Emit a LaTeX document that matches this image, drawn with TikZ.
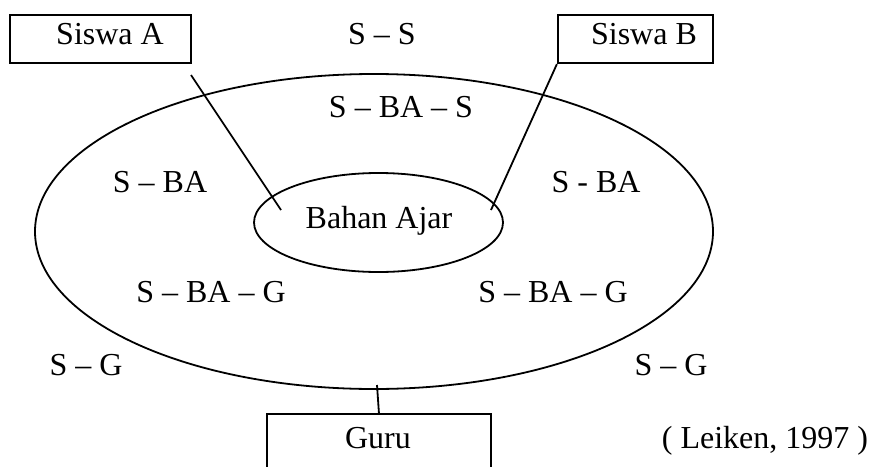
\documentclass[tikz,border=0pt]{standalone}
\usepackage{fontspec}
\setmainfont{Liberation Serif}
\begin{document}
\begin{tikzpicture}[x=1pt,y=-1pt,
  lbl/.style={inner sep=0pt, anchor=base, font=\fontsize{32}{38}\selectfont},
  boxn/.style={draw, line width=2.2pt, inner sep=0pt},
  conn/.style={line width=1.8pt}]
\useasboundingbox (0,0) rectangle (873,466);
% outer and inner ellipses
\draw[conn] (374,231.5) ellipse [x radius=339, y radius=157.5];
\draw[conn] (378.5,222.5) ellipse [x radius=124.5, y radius=49.5];
% boxes
\node[boxn, minimum width=181pt, minimum height=48pt] (sa) at (100.5,39) {};
\node[boxn, minimum width=155pt, minimum height=48pt] (sb) at (635.5,39) {};
\draw[line width=2.2pt] (267,470) -- (267,414) -- (491,414) -- (491,470);
\coordinate (gtop) at (379,414);
% labels
\node[lbl] (tsa) at (110,44) {Siswa A};
\node[lbl] (tsb) at (644,44) {Siswa B};
\node[lbl] (ss) at (382,44) {S – S};
\node[lbl] (sbas) at (401,117) {S – BA – S};
\node[lbl] (sbal) at (160,192) {S – BA};
\node[lbl] (sbar) at (596,192) {S - BA};
\node[lbl] (ba) at (379,228) {Bahan Ajar};
\node[lbl] (sbagl) at (211,302) {S – BA – G};
\node[lbl] (sbagr) at (553,302) {S – BA – G};
\node[lbl] (sgl) at (86,375) {S – G};
\node[lbl] (sgr) at (671,375) {S – G};
\node[lbl] (guru) at (378,448) {Guru};
\node[lbl] (src) at (765,448) {( Leiken, 1997 )};
% connectors
\coordinate (a1) at (191,75);
\coordinate (a2) at (281,210);
\coordinate (b2) at (491,210);
\coordinate (g1) at (377,385);
\draw[conn] (a1) -- (a2);
\draw[conn] (sb.south west) -- (b2);
\draw[conn] (g1) -- (gtop);
\end{tikzpicture}
\end{document}
